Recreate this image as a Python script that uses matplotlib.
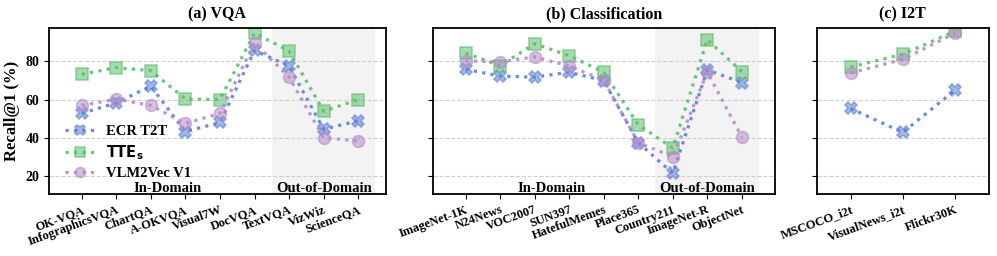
import matplotlib
matplotlib.use('Agg')
import matplotlib.pyplot as plt
from matplotlib.colors import to_rgba

# ========== data ==========
vqa_tasks = ['OK-VQA', 'InfographicsVQA', 'ChartQA', 'A-OKVQA', 'Visual7W',
             'DocVQA', 'TextVQA', 'VizWiz', 'ScienceQA']
vqa_ecr = [52.7, 58.3, 67.0, 43.1, 48.0, 85.7, 77.6, 44.4, 48.9]
vqa_tte = [73.2, 76.7, 75.1, 60.3, 60.0, 94.8, 85.4, 53.9, 60.0]
vqa_vlm = [56.9, 60.2, 56.9, 47.5, 52.7, 89.7, 71.7, 40.0, 38.3]

cls_tasks = ['ImageNet-1K', 'N24News', 'VOC2007', 'SUN397', 'HatefulMemes',
             'Place365', 'Country211', 'ImageNet-R', 'ObjectNet']
cls_ecr = [75.8, 72.3, 71.7, 74.3, 69.9, 37.4, 21.4, 75.5, 68.9]
cls_tte = [84.3, 77.7, 89.2, 83.0, 74.3, 46.8, 34.6, 91.3, 74.6]
cls_vlm = [80.2, 79.8, 82.3, 77.6, 70.1, 37.4, 30.1, 74.3, 40.4]

i2t_tasks = ['MSCOCO_i2t', 'VisualNews_i2t', 'Flickr30K']
i2t_ecr = [55.3, 42.8, 64.9]
i2t_tte = [77.0, 83.7, 95.8]
i2t_vlm = [73.9, 81.0, 94.8]

labels = ['ECR T2T', r'$\mathbf{TTE}_\mathbf{s}$', 'VLM2Vec V1']
colors = ['#5b80d2', '#5cbf6e', '#b48cc8']
markers = ['X', 's', 'o']

plt.rcParams['font.family'] = 'Liberation Serif'
plt.rcParams['font.weight'] = 'bold'
plt.rcParams['mathtext.fontset'] = 'dejavusans'

fig = plt.figure(figsize=(9.97, 2.56), dpi=100)
ax_a = fig.add_axes([0.049, 0.242, 0.338, 0.649])
ax_b = fig.add_axes([0.434, 0.242, 0.343, 0.649])
ax_c = fig.add_axes([0.819, 0.242, 0.173, 0.649])

panels = [
    (ax_a, '(a) VQA', vqa_tasks, [vqa_ecr, vqa_tte, vqa_vlm], (-0.95, 8.8), True),
    (ax_b, '(b) Classification', cls_tasks, [cls_ecr, cls_tte, cls_vlm], (-0.95, 8.95), True),
    (ax_c, '(c) I2T', i2t_tasks, [i2t_ecr, i2t_tte, i2t_vlm], (-0.65, 2.65), False),
]

for ax, title, tasks, series, xlim, domains in panels:
    x = list(range(len(tasks)))
    for vals, lab, c, m in zip(series, labels, colors, markers):
        ax.plot(x, vals, linestyle=':', linewidth=2.3, color=to_rgba(c, 0.9),
                marker=m, markersize=8.5, markerfacecolor=to_rgba(c, 0.55),
                markeredgecolor=to_rgba(c, 0.6), markeredgewidth=1.2, label=lab)
    if domains:
        # out-of-domain region
        ax.axvspan(5.5, 8.5, color='#f3f3f3', zorder=0, lw=0)
        ax.text(2.5, 13.2, 'In-Domain', ha='center', va='center',
                fontsize=10.5, fontweight='bold')
        ax.text(7.0, 13.2, 'Out-of-Domain', ha='center', va='center',
                fontsize=10.5, fontweight='bold')
    ax.set_xlim(*xlim)
    ax.set_ylim(10.5, 97.5)
    ax.set_yticks([20, 40, 60, 80])
    ax.grid(axis='y', linestyle='--', color='#d0d0d0', linewidth=0.8)
    ax.set_axisbelow(True)
    ax.set_xticks(x)
    ax.set_xticklabels(tasks, rotation=20, ha='right', rotation_mode='anchor',
                       fontsize=9, fontweight='bold')
    ax.set_title(title, fontsize=11.5, fontweight='bold', pad=7)
    for s in ax.spines.values():
        s.set_linewidth(1.3)
    if ax is ax_a:
        ax.tick_params(axis='y', labelsize=10)
        for t in ax.get_yticklabels():
            t.set_fontweight('bold')
        ax.set_ylabel('Recall@1 (%)', fontsize=12, fontweight='bold', labelpad=4)
    else:
        ax.tick_params(axis='y', labelleft=False)

leg = ax_a.legend(loc='lower left', bbox_to_anchor=(0.01, 0.005), frameon=False,
                  prop={'size': 10.5, 'weight': 'bold'}, handlelength=2.0,
                  labelspacing=0.36, handletextpad=0.8, markerscale=0.85)

plt.savefig('out.png', dpi=100)
